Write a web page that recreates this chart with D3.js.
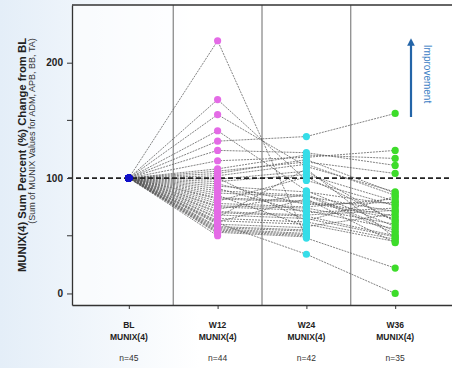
<!DOCTYPE html>
<html>
<head>
<meta charset="utf-8">
<script src="https://cdn.jsdelivr.net/npm/d3@7"></script>
<style>
  body { margin: 0; background: #fff; }
  svg { display: block; font-family: "Liberation Sans", Arial, sans-serif; }
</style>
</head>
<body>
<svg id="chart" width="452" height="368"></svg>
<script>
// visits and their counts
const visits = ["BL", "W12", "W24", "W36"];
const visitCounts = ["n=45", "n=44", "n=42", "n=35"];
const visitColors = ["#1010c8", "#e46be6", "#36dde8", "#3ddc2a"];
const yTicks = [0, 100, 200];
const yMinorTicks = [50, 150];

// percent change per subject (BL is always 100), null = not measured
const bl = d3.range(45).map(() => 100);
const w12 = [219, 168, 155, 141, 132, 124, 115, 108, 106, 104, 102, 100, 99, 97, 95, 93, 91, 89, 87, 85,
  83, 82, 80, 78, 76, 75, 73, 71, 70, 68, 66, 65, 63, 62, 61, 60, 58, 57, 56, 55, 54, 53, 52, 50, null];
const w24 = [48, 98, 110, 89, 136, 122, 118, 120, 114, 116, 112, 63, 106, 103, 77, 88, 70, 85, 84, 58,
  80, 79, 101, 75, 74, 72, 86, 68, 67, 65, 108, 62, 60, 82, 34, 57, 55, 54, 52, 51, 50, 49, null, null, null];
const w36 = [22, 76, 88, 58, 156, 111, 124, 117, 104, 87, 85, 84, 62, 80, 79, 77, 74, 52, 71, 69,
  67, 65, 63, 82, 60, 56, 54, 72, 50, 49, 48, 47, 45, 44, 0, null, null, null, null, null, null, null, null, null, null];

const subjects = bl.map((v, i) => [v, w12[i], w24[i], w36[i]]);

const svg = d3.select("#chart");
const width = +svg.attr("width");
const mLeft = 72, mTop = 5, mBottom = 305;

const x = d3.scalePoint().domain(visits).range([mLeft, width]).padding(0.64);
const y = d3.scaleLinear().domain([-10, 250]).range([mBottom, mTop]);

// faint background tint on the left
const defs = svg.append("defs");
const grad = defs.append("linearGradient").attr("id", "bg").attr("x1", 0).attr("x2", 1);
grad.append("stop").attr("offset", 0).attr("stop-color", "#e4eef8");
grad.append("stop").attr("offset", 1).attr("stop-color", "#ffffff");
svg.append("rect").attr("width", 200).attr("height", 368).attr("fill", "url(#bg)");
svg.append("rect").attr("x", mLeft).attr("y", mTop).attr("width", width - mLeft).attr("height", mBottom - mTop)
  .attr("fill", "#fff").attr("opacity", 0.6);

// dividers between visits
const step = x.step();
svg.append("g").selectAll("line").data(visits.slice(1))
  .enter().append("line")
    .attr("x1", d => x(d) - step / 2)
    .attr("x2", d => x(d) - step / 2)
    .attr("y1", mTop).attr("y2", mBottom)
    .attr("stroke", "#6a6a6a").attr("stroke-width", 1);

// subject lines
svg.append("g").selectAll("path").data(subjects)
  .enter().append("path")
    .attr("d", d => {
      const pts = d.map((v, i) => v == null ? null : [x(visits[i]), y(v)]).filter(p => p);
      return d3.line()(pts);
    })
    .attr("fill", "none")
    .attr("stroke", "#5a5a5a")
    .attr("stroke-width", 0.75)
    .attr("stroke-dasharray", "2,1");

// reference line at 100
svg.append("line")
  .attr("x1", mLeft - 4).attr("x2", width)
  .attr("y1", y(100)).attr("y2", y(100))
  .attr("stroke", "#222").attr("stroke-width", 1.6)
  .attr("stroke-dasharray", "5,3");

// points
visits.forEach((v, i) => {
  const vals = subjects.map(s => s[i]).filter(d => d != null);
  svg.append("g").selectAll("circle").data(vals)
    .enter().append("circle")
      .attr("cx", x(v))
      .attr("cy", d => y(d))
      .attr("r", 3.6)
      .attr("fill", visitColors[i]);
});

// frame
svg.append("line").attr("x1", mLeft).attr("x2", width).attr("y1", mTop).attr("y2", mTop)
  .attr("stroke", "#333").attr("stroke-width", 1.3);

const yAxis = svg.append("g")
  .attr("transform", `translate(${mLeft},0)`)
  .call(d3.axisLeft(y).tickValues(yTicks).tickSize(5).tickPadding(4).tickSizeOuter(0));
yAxis.append("g").selectAll("line").data(yMinorTicks)
  .enter().append("line")
    .attr("x1", -5).attr("x2", 0)
    .attr("y1", d => y(d)).attr("y2", d => y(d))
    .attr("stroke", "#333");
yAxis.selectAll("text").attr("font-size", 10).attr("font-weight", "bold").attr("fill", "#222");
yAxis.select(".domain").attr("stroke", "#333").attr("stroke-width", 1.3);
yAxis.selectAll(".tick line").attr("stroke", "#333");

const xAxis = svg.append("g")
  .attr("transform", `translate(0,${mBottom})`)
  .call(d3.axisBottom(x).tickSize(4).tickSizeOuter(0).tickFormat(""));
xAxis.select(".domain").attr("stroke", "#333").attr("stroke-width", 1.3);
xAxis.selectAll(".tick line").attr("stroke", "#333");

// x labels
const xl = svg.append("g").selectAll("g").data(visits).enter().append("g")
  .attr("transform", d => `translate(${x(d)},0)`)
  .attr("text-anchor", "middle");
xl.append("text").attr("y", 328).attr("font-size", 8.5).attr("font-weight", "bold").attr("fill", "#222").text(d => d);
xl.append("text").attr("y", 340).attr("font-size", 8.5).attr("font-weight", "bold").attr("fill", "#222").text("MUNIX(4)");
xl.append("text").attr("y", 361).attr("font-size", 8.5).attr("fill", "#333").text((d, i) => visitCounts[i]);

// y titles
svg.append("text")
  .attr("transform", "translate(26,155) rotate(-90)")
  .attr("text-anchor", "middle")
  .attr("font-size", 11.3).attr("font-weight", "bold").attr("fill", "#222")
  .text("MUNIX(4) Sum Percent (%) Change from BL");
svg.append("text")
  .attr("transform", "translate(35,131) rotate(-90)")
  .attr("text-anchor", "middle")
  .attr("font-size", 9).attr("fill", "#333")
  .text("(Sum of MUNIX Values for ADM, APB, BB, TA)");

// improvement arrow
defs.append("marker").attr("id", "head")
  .attr("viewBox", "0 0 10 10").attr("refX", 5).attr("refY", 5)
  .attr("markerWidth", 3.5).attr("markerHeight", 3.5).attr("orient", "auto")
  .append("path").attr("d", "M0,0L10,5L0,10z").attr("fill", "#2465a8");
svg.append("line")
  .attr("x1", 411).attr("x2", 411).attr("y1", 117).attr("y2", 42)
  .attr("stroke", "#2465a8").attr("stroke-width", 2.2)
  .attr("marker-end", "url(#head)");
svg.append("text")
  .attr("transform", "translate(424,74) rotate(90)")
  .attr("text-anchor", "middle")
  .attr("font-size", 10).attr("fill", "#3b80c4")
  .text("Improvement");
</script>
</body>
</html>
